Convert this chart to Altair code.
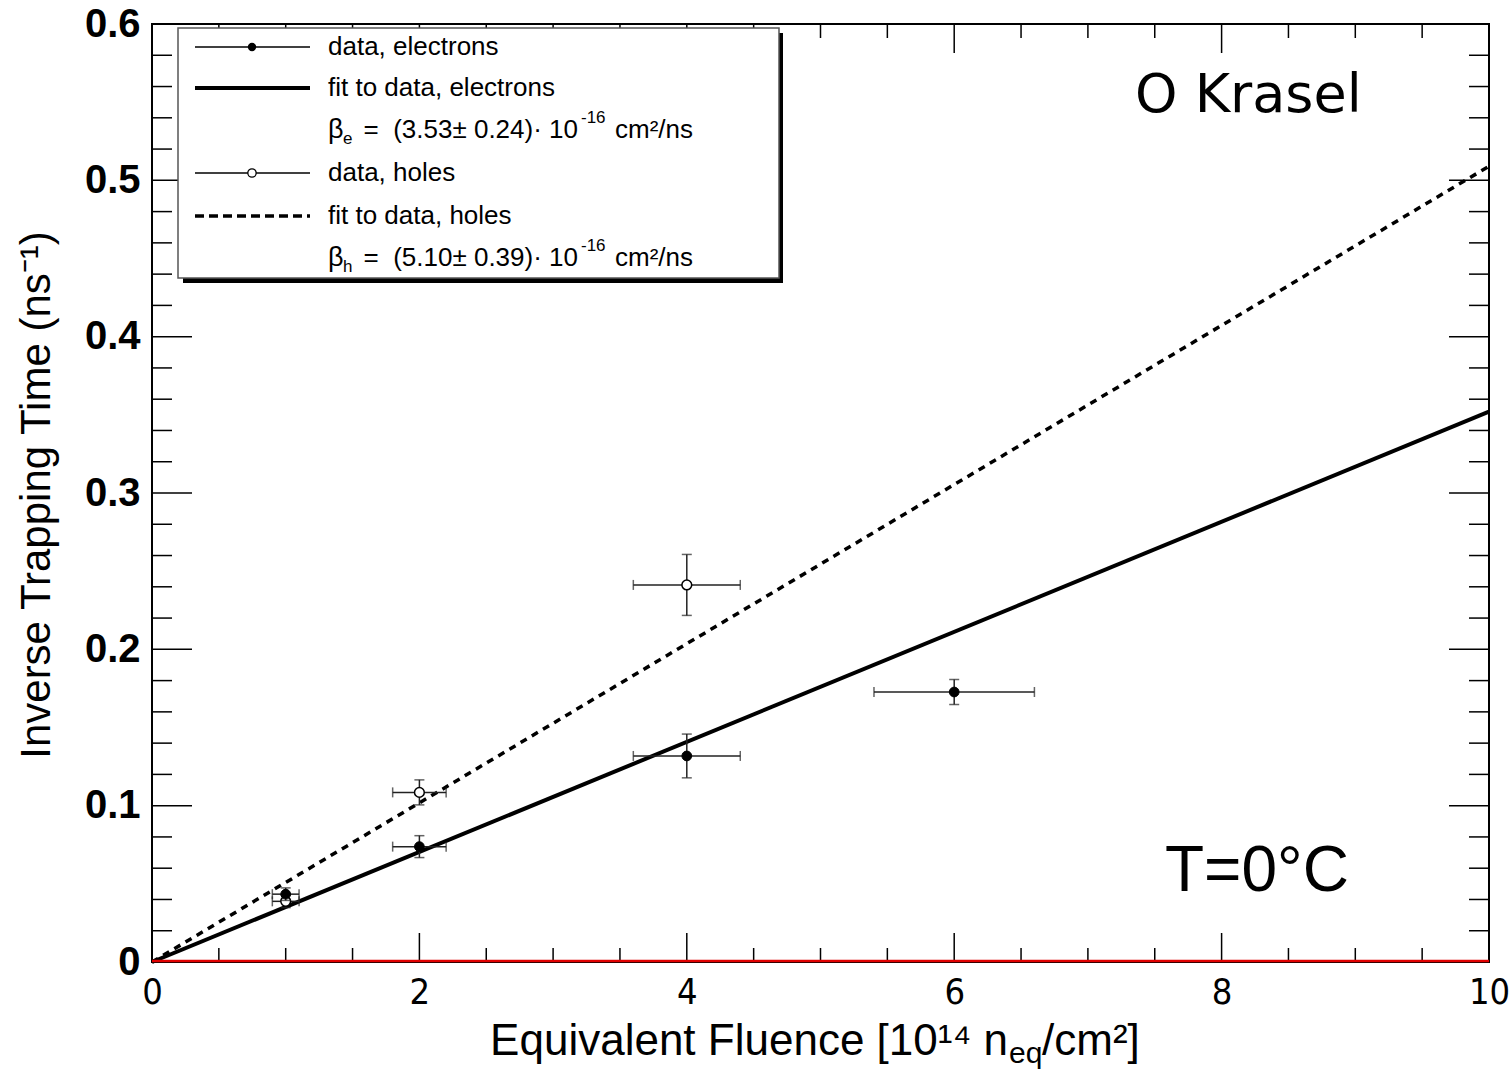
import altair as alt
import pandas as pd

# ---------------- data ----------------
e_fluence = [1, 2, 4, 6]
e_rate = [0.0434, 0.0738, 0.1318, 0.1727]
e_fluence_err = [0.1, 0.2, 0.4, 0.6]
e_rate_err = [0.004, 0.007, 0.014, 0.008]

h_fluence = [1, 2, 4]
h_rate = [0.0388, 0.1085, 0.2412]
h_fluence_err = [0.1, 0.2, 0.4]
h_rate_err = [0.004, 0.008, 0.0195]

fit_fluence = [0, 10]
e_fit_rate = [0.0, 0.352]
h_fit_rate = [0.0, 0.509]

x_major = [0, 2, 4, 6, 8, 10]
x_minor = [i * 0.5 for i in range(21) if i % 4]
y_major = [0, 0.1, 0.2, 0.3, 0.4, 0.5, 0.6]
y_minor = [round(i * 0.02, 2) for i in range(31) if i % 5]

legend_labels = ["data, electrons", "fit to data, electrons",
                 "data, holes", "fit to data, holes"]
beta_e_text = "=\u00a0\u00a0(3.53\u00b1 0.24)\u00b7 10"
beta_h_text = "=\u00a0\u00a0(5.10\u00b1 0.39)\u00b7 10"

# ---------------- layout ----------------
W, H = 1337, 938
SANS = "Liberation Sans"
NARROW = "Liberation Sans Narrow, DejaVu Sans Condensed, Liberation Sans"

xscale = alt.Scale(domain=[0, 10], nice=False, zero=False)
yscale = alt.Scale(domain=[0, 0.6], nice=False, zero=False)

xaxis = alt.Axis(values=x_major, format="d", title="", ticks=False, domain=False,
                 grid=False, labelFont=NARROW, labelFontSize=36, labelPadding=13,
                 labelColor="black", labelFlush=False, labelOverlap=False)
yaxis = alt.Axis(values=y_major, format=".1~f", title="", ticks=False, domain=False,
                 grid=False, labelFont=SANS, labelFontWeight="bold", labelFontSize=40,
                 labelPadding=12, labelColor="black", labelFlush=False, labelOverlap=False)


def X(field):
    return alt.X(field, type="quantitative", scale=xscale, axis=xaxis)


def Y(field):
    return alt.Y(field, type="quantitative", scale=yscale, axis=yaxis)


one = alt.Data(values=[{"k": 0}])


def label(text, x, y, size, font=SANS, align="left", weight="normal", angle=0):
    return alt.Chart(one).mark_text(
        text=text, align=align, baseline="middle", fontSize=size, font=font,
        fontWeight=weight, angle=angle, color="black"
    ).encode(x=alt.value(x), y=alt.value(y))


# ---------------- frame ticks (inside, ROOT style) ----------------
def yticks(values, length):
    df = pd.DataFrame({"v": values})
    left = alt.Chart(df).mark_rule(color="black", strokeWidth=1.5).encode(
        y=Y("v"), x=alt.value(0), x2=alt.value(length))
    right = alt.Chart(df).mark_rule(color="black", strokeWidth=1.5).encode(
        y=Y("v"), x=alt.value(W - length), x2=alt.value(W))
    return [left, right]


def xticks(values, length):
    df = pd.DataFrame({"v": values})
    bottom = alt.Chart(df).mark_rule(color="black", strokeWidth=1.5).encode(
        x=X("v"), y=alt.value(H - length), y2=alt.value(H))
    top = alt.Chart(df).mark_rule(color="black", strokeWidth=1.5).encode(
        x=X("v"), y=alt.value(0), y2=alt.value(length))
    return [bottom, top]


# ---------------- fits ----------------
fit_df = pd.DataFrame({"x": fit_fluence, "ye": e_fit_rate, "yh": h_fit_rate})
fit_e = alt.Chart(fit_df).mark_line(color="black", strokeWidth=4).encode(
    x=X("x"), y=Y("ye"))
fit_h = alt.Chart(fit_df).mark_line(color="black", strokeWidth=3.5, strokeDash=[7, 6]).encode(
    x=X("x"), y=Y("yh"))

ticks = yticks(y_major, 40) + yticks(y_minor, 20) + xticks(x_major, 29) + xticks(x_minor, 14)

zero_df = pd.DataFrame({"x": [0], "x2": [10], "y": [0]})
zero_line = alt.Chart(zero_df).mark_rule(color="#e00000", strokeWidth=2.5, yOffset=-1).encode(
    x=X("x"), x2="x2", y=Y("y"))


# ---------------- data points with error bars ----------------
def series(xs, ys, xe, ye, hollow):
    df = pd.DataFrame({"x": xs, "y": ys})
    df["xlo"] = [a - b for a, b in zip(xs, xe)]
    df["xhi"] = [a + b for a, b in zip(xs, xe)]
    df["ylo"] = [a - b for a, b in zip(ys, ye)]
    df["yhi"] = [a + b for a, b in zip(ys, ye)]
    base = alt.Chart(df)
    hbar = base.mark_rule(color="#222", strokeWidth=1.5).encode(x=X("xlo"), x2="xhi", y=Y("y"))
    vbar = base.mark_rule(color="#222", strokeWidth=1.5).encode(x=X("x"), y=Y("ylo"), y2="yhi")
    hcap = base.transform_fold(["xlo", "xhi"], as_=["kk", "xe"]).mark_tick(
        orient="vertical", size=10, thickness=1.5, color="#222").encode(x=X("xe"), y=Y("y"))
    vcap = base.transform_fold(["ylo", "yhi"], as_=["kk", "ye"]).mark_tick(
        orient="horizontal", size=10, thickness=1.5, color="#222").encode(x=X("x"), y=Y("ye"))
    if hollow:
        pts = base.mark_point(shape="circle", filled=True, fill="white", stroke="black",
                              strokeWidth=1.5, size=95, opacity=1).encode(x=X("x"), y=Y("y"))
    else:
        pts = base.mark_point(shape="circle", filled=True, fill="black", stroke="black",
                              strokeWidth=1, size=95, opacity=1).encode(x=X("x"), y=Y("y"))
    return [hbar, vbar, hcap, vcap, pts]


holes = series(h_fluence, h_rate, h_fluence_err, h_rate_err, True)
electrons = series(e_fluence, e_rate, e_fluence_err, e_rate_err, False)

# ---------------- legend ----------------
rows = [23, 64, 106, 149, 192, 234]
lx1, lx2, lmark, ltext = 43, 158, 100, 176

legend = [
    alt.Chart(one).mark_rect(color="black").encode(
        x=alt.value(31), x2=alt.value(631), y=alt.value(9), y2=alt.value(259)),
    alt.Chart(one).mark_rect(fill="white", stroke="#555", strokeWidth=1.5).encode(
        x=alt.value(26), x2=alt.value(627), y=alt.value(4), y2=alt.value(254)),
    # electrons data
    alt.Chart(one).mark_rule(color="black", strokeWidth=1.3).encode(
        x=alt.value(lx1), x2=alt.value(lx2), y=alt.value(rows[0])),
    alt.Chart(one).mark_point(shape="circle", filled=True, fill="black", size=70, opacity=1).encode(
        x=alt.value(lmark), y=alt.value(rows[0])),
    # electrons fit
    alt.Chart(one).mark_rule(color="black", strokeWidth=4).encode(
        x=alt.value(lx1), x2=alt.value(lx2), y=alt.value(rows[1])),
    # holes data
    alt.Chart(one).mark_rule(color="black", strokeWidth=1.3).encode(
        x=alt.value(lx1), x2=alt.value(lx2), y=alt.value(rows[3])),
    alt.Chart(one).mark_point(shape="circle", filled=True, fill="white", stroke="black",
                              strokeWidth=1.3, size=70, opacity=1).encode(
        x=alt.value(lmark), y=alt.value(rows[3])),
    # holes fit
    alt.Chart(one).mark_rule(color="black", strokeWidth=3.5, strokeDash=[9, 5]).encode(
        x=alt.value(lx1), x2=alt.value(lx2), y=alt.value(rows[4])),
    label(legend_labels[0], ltext, rows[0], 26),
    label(legend_labels[1], ltext, rows[1], 26),
    label(legend_labels[2], ltext, rows[3], 26),
    label(legend_labels[3], ltext, rows[4], 26),
]

for r, sub, txt in [(rows[2], "e", beta_e_text), (rows[5], "h", beta_h_text)]:
    legend += [
        label("\u03b2", ltext, r, 27),
        label(sub, 191, r + 9, 17),
        label(txt, 426, r, 26, align="right"),
        label("-16", 429, r - 12, 17),
        label("cm\u00b2/ns", 463, r, 26),
    ]

# ---------------- annotations and titles ----------------
texts = [
    label("O Krasel", 983, 72, 54, font="DejaVu Sans"),
    label("T=0\u00b0C", 1013, 848, 64),
    label("Inverse Trapping Time (ns\u207b\u00b9)", -115, 471, 42, angle=270, align="center"),
    label("Equivalent Fluence [10\u00b9\u2074 n", 856, 1018, 44, align="right"),
    label("eq", 857, 1030, 30),
    label("/cm\u00b2]", 890, 1018, 44),
]

layers = [fit_e, fit_h] + ticks + [zero_line] + holes + electrons + legend + texts

chart = alt.layer(*layers).properties(
    width=W, height=H,
    autosize=alt.AutoSizeParams(type="none"),
    padding={"left": 152, "top": 24, "right": 20, "bottom": 118},
    background="white",
).configure_view(stroke="black", strokeWidth=2)

chart.save("out.html", embed_options={"renderer": "svg", "actions": False})
